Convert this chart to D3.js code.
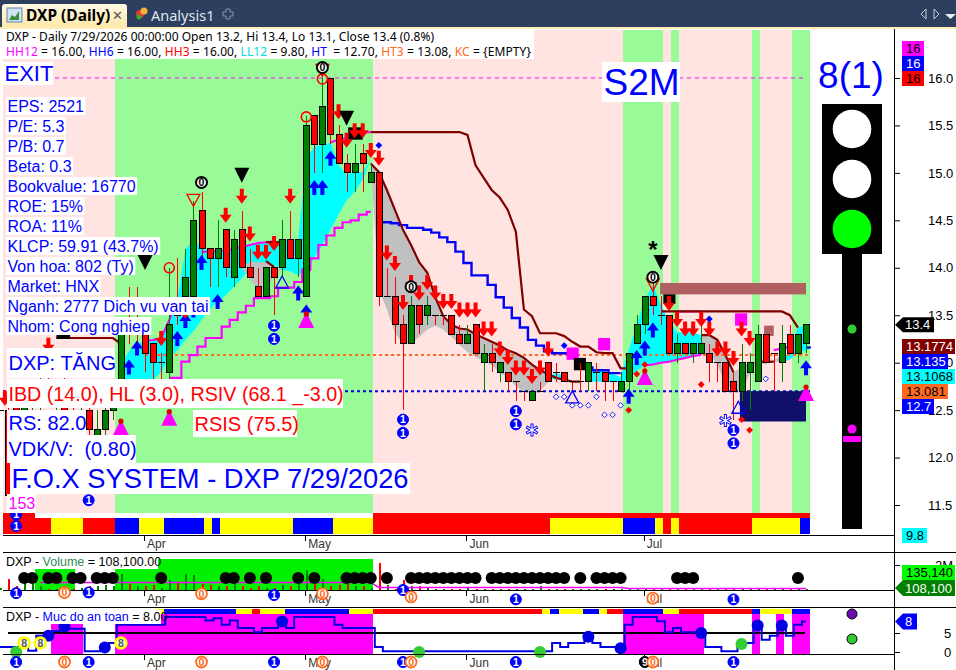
<!DOCTYPE html>
<html><head><meta charset="utf-8">
<script src="https://cdnjs.cloudflare.com/ajax/libs/d3/7.8.5/d3.min.js"></script>
<style>
html,body{margin:0;padding:0;background:#fff;overflow:hidden}
svg{display:block}
text{font-family:"Liberation Sans",Arial,sans-serif;white-space:pre}
</style></head><body><div id="c"></div>
<script>
// ---------- DATA ----------
const open_ = [12.5,12.5,12.6,12.5,12.6,12.7,12.8,12.6,12.7,12.5,12.4,12.5,12.2,12.3,12.5,12.7,13.4,13.3,13.3,13.2,13.0,12.9,13.6,13.7,13.7,14.6,14.2,14.1,14.4,13.9,14.4,14.0,13.8,13.7,14.0,14.0,14.3,14.1,13.7,15.6,15.3,16.0,15.4,15.1,15.0,15.2,14.9,15.0,13.7,13.7,13.4,13.2,13.6,13.5,13.5,13.5,13.5,13.3,13.2,13.4,13.0,13.1,12.9,12.9,12.8,12.7,12.6,12.7,13.0,12.9,12.9,12.8,12.8,12.8,12.9,12.9,12.8,12.7,12.8,13.2,13.4,13.7,13.5,13.5,13.1,13.2,13.1,13.1,13.1,13.0,13.0,12.8,12.7,12.9,12.8,13.3,13.1,13.0,13.3,13.1,13.2];
const high_ = [12.5,12.6,12.7,12.7,12.8,12.9,13.0,12.8,12.9,12.7,12.6,12.6,12.5,12.6,12.7,13.4,13.8,13.8,13.4,13.2,13.1,14.0,14.1,14.2,14.7,14.8,14.2,14.5,14.4,14.4,14.6,14.2,14.0,14.0,14.0,14.5,14.6,14.3,15.6,15.6,16.0,16.0,15.5,15.2,15.3,15.3,15.1,15.0,14.0,13.9,13.5,13.7,13.6,13.7,13.5,13.5,13.5,13.4,13.4,13.4,13.2,13.2,13.0,12.9,12.8,12.7,12.7,12.8,13.0,13.0,12.9,12.8,13.0,13.0,13.0,12.9,12.8,12.9,13.1,13.5,13.7,13.9,13.7,13.5,13.3,13.2,13.2,13.4,13.2,13.0,13.0,12.9,13.2,13.1,13.4,13.3,13.1,13.4,13.4,13.3,13.4];
const low_  = [12.4,11.6,12.4,12.4,12.4,12.5,12.6,12.4,12.5,12.3,12.3,12.2,12.2,12.2,12.4,12.6,13.2,13.2,12.9,12.8,12.7,12.8,13.4,13.6,13.6,14.1,13.8,13.8,13.9,13.8,14.0,13.9,13.7,13.7,13.5,13.9,14.1,13.9,13.7,15.0,15.0,15.3,15.1,14.8,14.8,14.8,14.9,13.6,13.7,13.2,12.5,13.2,13.3,13.4,13.4,13.4,13.3,13.2,13.2,13.1,12.7,12.9,12.8,12.7,12.6,12.6,12.6,12.7,12.8,12.8,12.8,12.7,12.7,12.7,12.7,12.6,12.6,12.7,12.7,13.2,13.3,13.5,13.4,13.1,13.0,13.1,13.0,13.1,12.8,12.8,12.7,12.4,12.6,12.5,12.8,13.0,12.7,12.8,13.1,13.0,13.1];
const close_= [12.5,11.6,12.5,12.6,12.7,12.8,12.6,12.7,12.5,12.4,12.5,12.3,12.3,12.5,12.6,13.3,13.3,13.3,13.1,13.0,13.0,13.4,13.5,13.9,14.5,14.2,14.1,14.2,14.0,14.3,14.0,13.9,13.7,14.0,13.9,14.3,14.1,14.3,15.5,15.3,15.7,15.4,15.1,15.0,15.1,15.1,15.0,13.7,13.7,13.4,13.2,13.6,13.4,13.6,13.5,13.5,13.3,13.2,13.3,13.1,13.1,13.0,13.0,12.8,12.8,12.7,12.7,12.7,12.8,12.9,12.8,12.8,12.8,13.0,12.9,12.8,12.8,12.8,13.1,13.4,13.7,13.6,13.5,13.1,13.2,13.1,13.2,13.2,13.0,13.0,12.7,12.7,13.0,13.0,13.3,13.0,13.1,13.2,13.1,13.3,13.4];
const volumeM = [.2,.9,.3,1.1,.9,.3,.1,.1,.3,.1,.2,.3,.3,.4,.3,1.3,.5,.3,.3,.4,.2,.8,.6,1.3,1.2,.5,.4,.3,.3,.5,.3,.2,.3,.2,.2,.4,.3,.5,1.6,.8,.9,.3,.4,.5,.3,.3,.2,2.2,.4,.1,.8,.3,.3,.2,.1,.1,.1,.1,.2,.1,.1,.1,.1,.1,.1,.1,.1,.3,.1,.1,.1,.1,.1,.1,.1,.1,.1,.1,.1,.1,.1,.2,.1,.1,.1,.1,.1,.1,.1,.1,.1,.2,.1,.1,.1,.1,.1,.1,.1,.1,.1];
const safety = [1.3,1.3,1.3,1.3,.3,4.3,4.3,5.5,7.2,6.1,6.1,.2,.2,1.2,2.4,7.2,7.2,7.2,7.2,7.2,7.2,9.2,9.2,9.2,9.2,9.2,8.3,8.9,7.2,8.3,6.3,6.3,5.2,6.3,6.3,8,6.3,9.2,9.2,9.2,9.2,9.2,7.2,6.3,6.3,6.3,6.3,1.3,.2,.2,.2,.2,.2,.2,.2,.2,.2,.2,.2,.2,.2,.2,.2,.2,.2,.2,.2,.2,.2,2.4,1.3,2.4,2.4,3.1,2.4,1.3,1.3,1.3,7.2,9.2,9.2,9.2,8.1,5.2,6.3,5.2,5.2,5.2,1.3,1.3,.2,.2,2.4,2.4,7.2,3.2,4.3,7.2,4.3,7.2,8];
const monthBars = [18,38,58,80];
const monthNames = ["Apr","May","Jun","Jul"];
const priceTicks = [16,15.5,15,14.5,14,13.5,13,12.5,12,11.5];
const zoneStarts = [-1,14,46,77,82,83,84,93,94,98];
const zoneKinds  = ["p","g","p","g","p","g","p","g","p","g"];
const stripeStarts = [-1,6,10,14,17,20,25,26,27,36,41,46,68,77,81,82,83,84,93,99];
const stripeKinds  = ["r","y","r","b","y","b","y","b","y","b","y","r","y","b","y","r","y","r","y","b"];
const stripe3Starts = [19,20,29,31,32,35,43,46,67,68,69,72,74,75,77,82,84,93,94,98];
const stripe3Kinds  = ["y","b","y","r","y","b","y","r","y","b","y","b","y","r","b","y","r","b","y","b"];
const safeRanges = [[6,10],[14,46],[77,87],[93,94],[96,97],[98,101]];
const cyanA = {s:15,t:[12.98,13.12,13.19,13.23,13.24,13.26,13.45,13.66,14.19,14.29,14.21,14.17,14.16,14.18,14.20,14.22,14.24,14.26,14.27,14.28,14.29,14.29,14.29,15.14,15.28,15.29,15.32,15.08,14.98,15.01,15.01,15.14],
 b:[12.84,12.82,12.82,12.82,12.82,12.90,13.05,13.13,13.24,13.33,13.45,13.56,13.64,13.71,13.80,13.89,14.0,14.06,14.06,14.03,13.98,13.96,13.92,13.98,14.11,14.24,14.40,14.56,14.71,14.80,14.93,15.14]};
const grayA = {s:30,t:[14.0,14.06,14.06,14.06,14.02,13.98],b:[14.0,13.87,13.77,13.75,13.92,13.98]};
const grayB = {s:46,t:[15.10,15.01,14.82,14.61,14.40,14.24,14.06,13.95,13.69,13.49,13.40,13.36,13.35,13.30,13.26,13.22,13.18,13.13,13.10,13.05,12.98,12.92,12.88,12.84],
 b:[15.10,13.77,13.56,13.31,13.20,13.20,13.27,13.35,13.39,13.35,13.27,13.19,13.11,13.06,13.02,12.97,12.90,12.84,12.75,12.70,12.67,12.70,12.79,12.84]};
const cyanB = {s:68,t:[12.84,12.9,12.85,12.8],b:[12.84,12.82,12.82,12.8]};
const cyanC = {s:73,t:[12.95,12.93,12.91,12.88,12.85,13.13,13.40,13.66,13.82,13.61,13.43,13.32,13.32,13.32,13.29],
 b:[12.8,12.8,12.8,12.8,12.8,12.82,12.92,12.97,12.98,13.0,13.01,13.03,13.05,13.07,13.08]};
const grayC = {s:87,t:[13.29,13.29,13.24,13.08,12.9,12.95,13.01,13.01,12.98,13.03,13.07],b:[13.08,13.1,12.98,12.77,12.7,12.7,12.88,13.01,13.01,13.01,13.01]};
const cyanD = {s:97,t:[13.07,13.1,13.37,13.4],b:[13.01,13.03,13.11,13.13]};
const lines = {
 magSlow:{s:21,v:[12.84,12.84,13.01,13.08,13.17,13.26,13.26,13.38,13.45,13.53,13.60,13.68,13.68,13.70,13.79,13.79,13.85,13.98,14.10,14.24,14.34,14.42,14.48,14.50,14.56,14.59]},
 magA:{s:18,v:[13.23,13.24,13.26,13.45,13.66]},
 magB:{s:25,v:[14.17,14.17,14.18,14.18,14.20,14.22,14.24,14.26,14.27,14.28]},
 magC:{s:41,v:[15.32,15.35,15.37,15.40,15.42,15.43]},
 magD:{s:80,v:[12.97,12.98,13.0,13.01,13.03,13.05,13.07,13.08]},
 magE:{s:84,v:[13.54,13.54,13.54,13.54]},
 magF:{s:96,v:[13.13,13.15,13.17]},
 blue:{s:47,v:[14.48,14.48,14.47,14.45,14.42,14.42,14.40,14.37,14.32,14.27,14.17,14.05,13.92,13.92,13.82,13.69,13.58,13.47,13.37,13.24,13.18,13.12,13.10,13.10,13.10,13.01,12.95,12.92,12.92,12.89,12.89]},
 blueEnd:{s:100,v:[13.16]},
 trail:{s:46,v:[15.43,15.43,15.43,15.43,15.43,15.43,15.43,15.43,15.43,15.43,15.43,15.43,15.40,15.08,14.95,14.82,14.74,14.61,14.38,13.56,13.49,13.31,13.31,13.31,13.28,13.22,13.17,13.17,13.11,13.10,13.10,12.94,12.94]},
 trailB:{s:82,v:[13.54,13.54,13.54,13.54,13.54,13.54,13.54,13.54,13.54,13.54,13.54,13.54,13.54,13.54,13.54,13.54,13.50,13.37]},
 trailC:{s:46,v:[15.10,15.01,14.82,14.61,14.40,14.24,14.06,13.95,13.69,13.49,13.40,13.36,13.35,13.30,13.26,13.22,13.18,13.13,13.10,13.05,12.98,12.92,12.88,12.84,12.82,12.80,12.80]},
 trailD:{s:87,v:[13.29,13.29,13.24,13.08,12.90]},
 trailE:{s:94,v:[13.01,13.01,13.01]},
 trailF:{s:7,v:[13.26,13.26,13.26,13.26,13.26,13.26,13.26,13.26,13.2]},
 trailG:{s:33,v:[14.27,14.27,14.27]},
 trailH:{s:33,v:[14.07,14.01]}
};
const refLevels = {exit:16, orange:13.081, blue:12.7};
const arrowsDown = [[42,15.65],[43,15.35],[44,15.45],[45,15.45],[46,15.24],[47,15.16],[28,14.56],[30,14.76],[31,14.36],[32,14.17],[33,14.17],[34,14.26],[36,14.76],[48,14.16],[49,14.05],[50,13.64],[51,13.85],[52,13.74],[53,13.85],[54,13.74],[55,13.65],[56,13.65],[57,13.56],[58,13.56],[59,13.56],[60,13.36],[61,13.36],[62,13.15],[63,13.06],[64,12.95],[65,12.95],[66,12.86],[67,12.95],[68,13.15],[83,13.63],[84,13.46],[85,13.36],[86,13.36],[87,13.46],[88,13.36],[89,13.15],[90,13.15],[91,13.05],[92,13.36],[93,13.26],[20,13.26],[6,13.19],[.6,12.63]];
const arrowsUp = [[25,14.05],[39,14.84],[40,14.84],[41,15.15],[16,12.95],[17,13.15],[22,13.25],[23,13.44],[24,13.55],[27,13.64],[37,13.73],[38,13.53],[78,12.64],[79,13.05],[80,13.15],[81,13.34],[100,12.94]];
const triBlackDown = [[30,14.98],[18,14.06],[43,15.58],[82,14.06]];
const triRedHollow = [[24,14.71],[40,16.08],[81,13.82]];
const ringsRed = [[21,14.0],[38,15.59],[40,15.99]];
const zerosBlack = [[25,14.90],[40,16.11],[51,13.80],[81,13.90]];
const onesBlue = [[34,13.39],[34,13.25],[50,12.40],[50,12.26],[64,12.49],[64,12.35],[91,12.29],[91,12.15],[11,11.55],[2,11.28],[2,11.40]];
const triMagenta = [[15,12.32],[21,12.42],[38,13.45],[80,12.85],[100,12.68]];
const dotsRed = [[23,13.50],[24,13.60],[78,12.5],[79,12.88],[80,12.98],[87,12.77],[92,12.4],[93,12.29]];
const hollowDots = [[69,12.64],[70,12.64],[71,12.55],[72,12.55],[73,12.55],[74,12.64],[75,12.45],[76,12.45],[77,12.55],[95,12.83]];
const triBlueHollow = [[35,13.85],[71,12.64],[91.6,12.53]];
const snow = [[66,12.29],[90,12.39]];
const dotsBlue = [[47,15.29],[70,13.18],[88,13.46]];
const asterisk = [[81,14.22]];
const boxes = [{a:70.3,b:71.8,p1:13.16,p2:13.03,c:"#ff00ff"},{a:74.2,b:75.7,p1:13.26,p2:13.13,c:"#ff00ff"},{a:71.2,b:72.7,p1:13.05,p2:12.92,c:"#000"},{a:91.2,b:92.7,p1:13.52,p2:13.39,c:"#ff00ff"},{a:94.8,b:96,p1:13.39,p2:13.28,c:"#b06060"},{a:81.9,b:100,p1:13.84,p2:13.72,c:"#b06060"},{a:91.8,b:100,p1:12.70,p2:12.38,c:"#10106a"},{a:82.3,b:83.8,p1:13.72,p2:13.62,c:"#000"},{a:43.2,b:45,p1:15.48,p2:15.35,c:"#000"},{a:7,b:8.7,p1:13.39,p2:13.25,c:"#000"}];
const volDots = [3,4,6,7,9,10,12,13,14,20,28,29,31,33,37,39,43,44,45,46,48,51,52,53,54,55,56,57,58,59,61,62,63,64,65,66,67,68,69,70,72,74,75,76,77,84,85,86,99];
const volOnes = [[2,-.25],[11,-.2],[34,-.4],[50,0],[64,-.75],[91,-.75]];
const volZeros = [[8,-.2],[25,-.3],[40,-.3],[51,-.55],[81,-.65]];
const safeBlue = [[6,4.3],[8,6.7],[13,1.2],[35,8],[73,4],[77,1],[87,5],[94,7],[97,7]];
const safeGreen = [[2,0],[52,0],[67,0],[92,2.1]];
const safeYellow = [[3,2.4],[5,2.4],[15,2.4]];
const lowOnes=[2,11,34,50,64,91], lowZeros=[8,25,40,51,81], lowNine=[80];
const infoRows = ["EPS: 2521","P/E: 5.3","P/B: 0.7","Beta: 0.3","Bookvalue: 16770","ROE: 15%","ROA: 11%","KLCP: 59.91 (43.7%)","Von hoa: 802 (Ty)","Market: HNX","Nganh: 2777 Dich vu van tai","Nhom: Cong nghiep"];
const tags = [["16","#ff00ff","#000",902,924,41,56],["16","#0000ff","#fff",902,924,56,71],["16","#ff0000","#000",902,924,71,86],["13.1774","#800000","#fff",902,955,339,354],["13.135","#0000ff","#fff",902,948,354,369],["13.1068","#00ffff","#000",902,955,369,384],["13.081","#ff6a20","#000",902,948,384,399],["12.7","#0000ff","#fff",902,934,399,414],["9.8","#00ffff","#000",902,927,528,543],["135,140","#00ff00","#000",902,955,565,580]];
const safeTicks=[0,5];

// ---------- SCALES ----------
const W=956,H=670;
const x=d3.scaleLinear().domain([0,100]).range([0,806]);
const y=d3.scaleLinear().domain([11.5,16]).range([505,78]);
const yVol=d3.scaleLinear().domain([0,2]).range([590,565]);
const ySafe=d3.scaleLinear().domain([0,5]).range([652,633]);
const svg=d3.select("#c").append("svg").attr("width",W).attr("height",H);
const colors={r:"#ff0000",y:"#ffff00",b:"#0000ff",p:"#ffe4e1",g:"#98fb98"};
const EDGE=.3;
function edgeX(i){return Math.min(810,Math.max(3,Math.round(x(i+EDGE))));}
function runs(g,starts,kinds,y0,h){
  g.selectAll(null).data(starts).join("rect")
   .attr("x",d=>edgeX(d))
   .attr("width",(d,i)=>edgeX(i+1<starts.length?starts[i+1]:100.3)-edgeX(d))
   .attr("y",y0).attr("height",h).attr("fill",(d,i)=>colors[kinds[i]]);
}
const chrome=svg.append("g");
chrome.append("rect").attr("width",W).attr("height",27).attr("fill","#2d3e5f");
chrome.append("rect").attr("y",27).attr("width",W).attr("height",2).attr("fill","#fdeeb8");
const defs=svg.append("defs");
const gr=defs.append("linearGradient").attr("id","tab").attr("x1",0).attr("x2",0).attr("y1",0).attr("y2",1);
gr.append("stop").attr("offset",0).attr("stop-color","#fff9e6");gr.append("stop").attr("offset",1).attr("stop-color","#fde9a8");
chrome.append("path").attr("d","M2 27V7q0-3 3-3H124q3 0 3 3V27Z").attr("fill","url(#tab)");
chrome.append("rect").attr("x",7).attr("y",8).attr("width",15).attr("height",14).attr("fill","#cfe3f5").attr("stroke","#5b86b5");
chrome.append("path").attr("d","M9 20l3-5 3 2 4-6v9Z").attr("fill","#3b8f3b");
chrome.append("text").attr("x",26).attr("y",21).attr("font-size",15.5).attr("font-weight","bold").attr("fill","#000").style("font-family","'Noto Sans'").text("DXP (Daily)");
chrome.append("text").attr("x",112).attr("y",20).attr("font-size",13).attr("fill","#555").text("✕");
chrome.append("circle").attr("cx",140).attr("cy",14).attr("r",4).attr("fill","#e33");
chrome.append("circle").attr("cx",144).attr("cy",11).attr("r",3.5).attr("fill","#f2b33d");
chrome.append("circle").attr("cx",139).attr("cy",17).attr("r",2.5).attr("fill","#3aa83a");
chrome.append("text").attr("x",151).attr("y",21).attr("font-size",14.5).attr("fill","#dfe6ee").style("font-family","'Noto Sans'").text("Analysis1");
chrome.append("path").attr("d","M226 9h4v3h3v4h-3v3h-4v-3h-3v-4h3Z").attr("fill","none").attr("stroke","#8a96a8");
chrome.append("path").attr("d","M926 9l-5 5 5 5ZM934 9l5 5-5 5Z").attr("fill","none").attr("stroke","#c4ccd8");
chrome.append("path").attr("d","M945 14h11l-5.5 5Z").attr("fill","#e8edf3");

const bg=svg.append("g");
runs(bg,zoneStarts,zoneKinds,30,504);
bg.append("rect").attr("x",3).attr("y",513).attr("width",32).attr("height",5).attr("fill","#f00");
bg.append("rect").attr("x",35).attr("y",513).attr("width",338).attr("height",5).attr("fill","#fff");
bg.append("rect").attr("x",373).attr("y",513).attr("width",437).attr("height",5).attr("fill","#f00");
runs(svg.append("g"),stripeStarts,stripeKinds,518,16);

const main=svg.append("g");
function cloud(c,col){
 const a=d3.area().x((d,i)=>x(c.s+i)).y0((d,i)=>y(c.b[i])).y1(d=>y(d));
 main.append("path").attr("d",a(c.t)).attr("fill",col);
}
cloud(cyanA,"#00ffff");cloud(grayA,"#c0c0c0");cloud(grayB,"#c0c0c0");cloud(cyanB,"#00ffff");cloud(cyanC,"#00ffff");cloud(grayC,"#c0c0c0");cloud(cyanD,"#00ffff");
main.append("line").attr("x1",55).attr("x2",805).attr("y1",y(refLevels.exit)).attr("y2",y(refLevels.exit)).attr("stroke","#ff00ff").attr("stroke-width",1).attr("stroke-dasharray","4 4");
main.append("line").attr("x1",x(18)).attr("x2",810).attr("y1",y(refLevels.orange)).attr("y2",y(refLevels.orange)).attr("stroke","#ff6a20").attr("stroke-width",2).attr("stroke-dasharray","3 3");
main.append("line").attr("x1",3).attr("x2",810).attr("y1",y(refLevels.blue)).attr("y2",y(refLevels.blue)).attr("stroke","#0000e0").attr("stroke-width",2).attr("stroke-dasharray","3 3");
function pl(l,col,w,curve){
 const v=l.v.length>1?l.v:[l.v[0],l.v[0]];
 const g=d3.line().x((d,i)=>x(l.s+i*(l.v.length>1?1:.6))).y(d=>y(d)).curve(curve||d3.curveLinear);
 main.append("path").attr("d",g(v)).attr("fill","none").attr("stroke",col).attr("stroke-width",w);
}
pl(lines.magSlow,"#ff00ff",2.2,d3.curveStep);
["magA","magB","magC","magD","magE","magF"].forEach(k=>pl(lines[k],"#ff00ff",2));
pl(lines.blue,"#0000ff",2.4,d3.curveStep);pl(lines.blueEnd,"#0000ff",2.4);
["trail","trailB","trailC","trailD","trailE","trailF","trailG","trailH"].forEach(k=>pl(lines[k],"#800000",2.2));
main.selectAll(null).data(boxes).join("rect").attr("x",d=>x(d.a)).attr("width",d=>x(d.b)-x(d.a)).attr("y",d=>y(d.p1)).attr("height",d=>y(d.p2)-y(d.p1)).attr("fill",d=>d.c);
const idx=d3.range(open_.length);
const cg=main.append("g").attr("shape-rendering","crispEdges");
const cx=i=>Math.round(x(i));
cg.selectAll(null).data(idx.filter(i=>i>0)).join("line").attr("x1",i=>cx(i)+.5).attr("x2",i=>cx(i)+.5).attr("y1",i=>y(high_[i])).attr("y2",i=>y(low_[i]))
  .attr("stroke",i=>close_[i]>open_[i]?"#008000":"#ff0000").attr("stroke-width",1);
cg.selectAll(null).data(idx.filter(i=>i>0&&close_[i]!==open_[i])).join("rect")
  .attr("x",i=>cx(i)-2.5).attr("width",6).attr("y",i=>y(Math.max(open_[i],close_[i]))).attr("height",i=>Math.abs(y(open_[i])-y(close_[i])))
  .attr("fill",i=>close_[i]>open_[i]?"#008000":"#ff0000").attr("stroke","#000").attr("stroke-width",1);
cg.selectAll(null).data(idx.filter(i=>close_[i]===open_[i])).join("line").attr("x1",i=>cx(i)-3).attr("x2",i=>cx(i)+4).attr("y1",i=>y(open_[i])).attr("y2",i=>y(open_[i])).attr("stroke","#000");

const px=d=>x(d[0]),py=d=>y(d[1]);
function arrow(data,col,dir){
 main.selectAll(null).data(data).join("path").attr("transform",d=>`translate(${px(d)},${py(d)}) scale(1,${dir})`).attr("d","M-2 -7H2V0H6L0 8L-6 0H-2Z").attr("fill",col);
}
arrow(arrowsDown,"#ff0000",1);
arrow(arrowsUp,"#0000ff",-1);
main.selectAll(null).data(triBlackDown).join("path").attr("transform",d=>`translate(${px(d)},${py(d)})`).attr("d","M-7.5 -7H7.5L0 8Z").attr("fill","#000");
main.selectAll(null).data(triRedHollow).join("path").attr("transform",d=>`translate(${px(d)},${py(d)})`).attr("d","M-6.5 -6H6.5L0 6Z").attr("fill","none").attr("stroke","#f00").attr("stroke-width",1.3);
main.selectAll(null).data(ringsRed).join("circle").attr("cx",px).attr("cy",py).attr("r",5).attr("fill","none").attr("stroke","#f00").attr("stroke-width",1.6);
function digit(g,data,fx,fy,fill,stroke,col,t,sw){
 const s=g.selectAll(null).data(data).join("g").attr("transform",d=>`translate(${fx(d)},${fy(d)})`);
 s.append("circle").attr("r",5.5).attr("fill",fill).attr("stroke",stroke).attr("stroke-width",sw||1);
 s.append("text").attr("text-anchor","middle").attr("y",3.8).attr("font-size",10.5).attr("font-weight","bold").attr("fill",col).text(t);
}
digit(main,zerosBlack,px,py,"#fff","#000","#000","0",2);
digit(main,onesBlue,px,py,"#0000ff","#0000ff","#fff","1");
const mt=main.selectAll(null).data(triMagenta).join("g").attr("transform",d=>`translate(${px(d)},${py(d)})`);
mt.append("path").attr("d","M-8 8H8L0 -8Z").attr("fill","#ff00ff");
mt.append("circle").attr("cy",-6).attr("r",2.6).attr("fill","#e00000");
const dm="M0 -3.4L3.4 0L0 3.4L-3.4 0Z";
main.selectAll(null).data(dotsRed).join("path").attr("transform",d=>`translate(${px(d)},${py(d)})`).attr("d",dm).attr("fill","#f00");
main.selectAll(null).data(dotsBlue).join("path").attr("transform",d=>`translate(${px(d)},${py(d)})`).attr("d",dm).attr("fill","#00f");
main.selectAll(null).data(hollowDots).join("path").attr("transform",d=>`translate(${px(d)},${py(d)})`).attr("d","M0 -2.8L2.8 0L0 2.8L-2.8 0Z").attr("fill","#fff").attr("stroke","#0000ff").attr("stroke-width",.9);
main.selectAll(null).data(triBlueHollow).join("path").attr("transform",d=>`translate(${px(d)},${py(d)})`).attr("d","M-6.5 6H6.5L0 -6Z").attr("fill","none").attr("stroke","#00f").attr("stroke-width",1.3);
const sn=main.selectAll(null).data(snow).join("g").attr("transform",d=>`translate(${px(d)},${py(d)})`);
sn.append("path").attr("d","M0 -6.5V6.5M-5.6 -3.2L5.6 3.2M-5.6 3.2L5.6 -3.2").attr("fill","none").attr("stroke","#0000ff").attr("stroke-width",3);
sn.append("path").attr("d","M0 -5.5V5.5M-4.8 -2.8L4.8 2.8M-4.8 2.8L4.8 -2.8").attr("fill","none").attr("stroke","#fff").attr("stroke-width",1.2);
main.selectAll(null).data(asterisk).join("text").attr("x",px).attr("y",d=>py(d)+11).attr("text-anchor","middle").attr("font-size",24).attr("font-weight","bold").attr("fill","#000").text("*");

const lab=svg.append("g");
function label(x0,y0,h,txt,col,size,minW){
 const g=lab.append("g");
 const r=g.append("rect").attr("x",x0).attr("y",y0).attr("height",h).attr("fill","#fff");
 const t=g.append("text").attr("x",x0+1.5).attr("y",y0+h/2).attr("dominant-baseline","central").attr("font-size",size).attr("fill",col).text(txt);
 r.attr("width",minW||t.node().getComputedTextLength()+3);
}
label(3,62,23,"EXIT","#0000ff",22,50);
infoRows.forEach((s,i)=>label(6,97+i*20,18,s,"#0000ff",16));
label(7,348,30,"DXP: TĂNG","#0000ff",20,108);
label(7,379,29,"IBD (14.0), HL (3.0), RSIV (68.1 _-3.0)","#ff0000",19.7,336);
label(193,410,27,"RSIS (75.5)","#ff0000",20,104);
label(7,410,26,"RS: 82.0","#0000ff",20,79);
label(7,435,28,"VDK/V:  (0.80)","#0000ff",20,129);
label(10,463,31,"F.O.X SYSTEM - DXP 7/29/2026","#0000ff",27.3,400);
label(7,494,19,"153","#ff00ff",16,29);
label(602,62,40,"S2M","#0000ff",37,78);
svg.append("text").attr("x",851).attr("y",75).attr("text-anchor","middle").attr("dominant-baseline","central").attr("font-size",37).attr("fill","#0000ff").text("8(1)");
const hd=svg.append("g");
hd.append("rect").attr("x",3).attr("y",30).attr("width",531).attr("height",29).attr("fill","#fff");
function rich(x0,y0,parts,size,g,ff){
 const t=(g||hd).append("text").attr("x",x0).attr("y",y0).attr("font-size",size).style("font-family",ff||"'Noto Sans'");
 parts.forEach(p=>t.append("tspan").attr("fill",p[1]).text(p[0]));
 return t;
}
rich(6,41,[["DXP - Daily 7/29/2026 00:00:00 Open 13.2, Hi 13.4, Lo 13.1, Close 13.4 (0.8%)","#000"]],12).attr("textLength",428);
rich(6,56,[["HH12","#ff00ff"],[" = 16.00, ","#000"],["HH6","#0000ff"],[" = 16.00, ","#000"],["HH3","#ff0000"],[" = 16.00, ","#000"],["LL12","#00e0e0"],[" = 9.80, ","#000"],["HT ","#0000ff"],[" = 12.70, ","#000"],["HT3","#ff6a20"],[" = 13.08, ","#000"],["KC","#ff6a20"],[" = {EMPTY}","#000"]],12).attr("textLength",525);

const tl=svg.append("g");
tl.append("rect").attr("x",822).attr("y",104).attr("width",60).attr("height",150).attr("fill","#000");
tl.append("rect").attr("x",842).attr("y",254).attr("width",20).attr("height",275).attr("fill","#000");
[[129,"#fff"],[179,"#fff"],[229,"#00ff00"]].forEach(d=>tl.append("circle").attr("cx",852).attr("cy",d[0]).attr("r",19.3).attr("fill",d[1]));
tl.append("circle").attr("cx",852).attr("cy",329).attr("r",4.5).attr("fill","#32cd32");
tl.append("circle").attr("cx",852).attr("cy",429).attr("r",4.5).attr("fill","#ff00ff");
tl.append("rect").attr("x",843).attr("y",436).attr("width",18).attr("height",6).attr("fill","#ff00ff");

const v=svg.append("g");
v.append("rect").attr("x",35).attr("width",40).attr("y",569).attr("height",21).attr("fill","#00f000");
v.append("rect").attr("x",edgeX(14)).attr("width",edgeX(46)-edgeX(14)).attr("y",559).attr("height",31).attr("fill","#00f000");
v.append("g").attr("shape-rendering","crispEdges").selectAll(null).data(idx).join("rect")
 .attr("x",i=>cx(i)).attr("width",2).attr("y",i=>yVol(volumeM[i])).attr("height",i=>590-yVol(volumeM[i]))
 .attr("fill",i=>close_[i]>=open_[i]?"#008000":"#ff0000");
v.append("path").attr("d",d3.line().x(i=>x(i)).y(i=>yVol(i<47?.6:i<78?.2:.12))(d3.range(5,101))).attr("fill","none").attr("stroke","#ff00ff").attr("stroke-width",1.5);
v.selectAll(null).data(volDots).join("circle").attr("cx",i=>x(i)).attr("cy",578).attr("r",6).attr("fill","#000");
v.append("rect").attr("x",5).attr("y",555).attr("width",153).attr("height",14).attr("fill","#fff");
rich(6,566,[["DXP - ","#000"],["Volume","#2e8b57"],[" = 108,100.00","#000"]],12.5,v,"'Liberation Sans'");

const s3=svg.append("g");
s3.selectAll(null).data(safeRanges).join("rect").attr("x",d=>edgeX(d[0])).attr("width",d=>edgeX(d[1])-edgeX(d[0])).attr("y",ySafe(10)).attr("height",654-ySafe(10)).attr("fill","#ff00ff");
runs(s3,stripe3Starts,stripe3Kinds,609,5);
s3.append("line").attr("x1",8).attr("x2",805).attr("y1",ySafe(5)).attr("y2",ySafe(5)).attr("stroke","#000").attr("stroke-width",2);
s3.append("path").attr("d",d3.line().x((d,i)=>x(i)).y(d=>ySafe(d)).curve(d3.curveStep)(safety)).attr("fill","none").attr("stroke","#0000e0").attr("stroke-width",2);
s3.selectAll(null).data(safeBlue).join("circle").attr("cx",d=>x(d[0])).attr("cy",d=>ySafe(d[1])).attr("r",6).attr("fill","#0000e0");
s3.selectAll(null).data(safeGreen).join("circle").attr("cx",d=>x(d[0])).attr("cy",d=>ySafe(d[1])).attr("r",6).attr("fill","#32cd32");
const yg=s3.selectAll(null).data(safeYellow).join("g").attr("transform",d=>`translate(${x(d[0])},${ySafe(d[1])})`);
yg.append("circle").attr("r",5.5).attr("fill","#fff").attr("stroke","#ffff00").attr("stroke-width",2.5);
yg.append("text").attr("text-anchor","middle").attr("y",3.8).attr("font-size",10.5).attr("font-weight","bold").attr("fill","#555").text("8");
s3.append("rect").attr("x",5).attr("y",610).attr("width",156).attr("height",14).attr("fill","#fff");
rich(6,621,[["DXP - ","#000"],["Muc do an toan","#0000ff"],[" = 8.00","#000"]],12.5,s3,"'Liberation Sans'");
s3.append("circle").attr("cx",852).attr("cy",614).attr("r",5).attr("fill","#6a0dad").attr("stroke","#000");
s3.append("circle").attr("cx",852).attr("cy",639).attr("r",5).attr("fill","#32cd32").attr("stroke","#000");

const f=svg.append("g").attr("shape-rendering","crispEdges");
[[535,894],[552,956],[590,894],[607,956],[654,894]].forEach(d=>f.append("line").attr("x1",3).attr("x2",d[1]).attr("y1",d[0]+.5).attr("y2",d[0]+.5).attr("stroke","#000"));
f.append("line").attr("x1",894.5).attr("x2",894.5).attr("y1",29).attr("y2",670).attr("stroke","#000");
[[535,543],[590,598],[654,662]].forEach(r=>{
 const g=svg.append("g");
 g.selectAll(null).data(monthBars).join("line").attr("x1",d=>Math.round(x(d))-.5).attr("x2",d=>Math.round(x(d))-.5).attr("y1",r[0]).attr("y2",r[0]+6).attr("stroke","#000");
 g.selectAll(null).data(monthBars).join("text").attr("x",d=>x(d)+2).attr("y",r[1]+5).attr("font-size",12).attr("fill","#333").text((d,i)=>monthNames[i]);
});
const ovl=svg.append("g");
digit(ovl,volOnes,d=>x(d[0]),d=>yVol(d[1]),"#0000ff","#0000ff","#fff","1");
digit(ovl,volZeros,d=>x(d[0]),d=>yVol(d[1]),"#fff","#ff6a20","#ff6a20","0",1.8);
digit(ovl,lowOnes,d=>x(d),()=>662,"#0000ff","#0000ff","#fff","1");
digit(ovl,lowNine,d=>x(d),()=>662,"#000","#000","#fff","9");
digit(ovl,lowZeros,d=>x(d),()=>662,"#fff","#ff6a20","#ff6a20","0",1.8);
function axisStyle(a){a.select(".domain").remove();a.selectAll("text").attr("font-size",13).attr("font-family","Liberation Sans").attr("fill","#000");a.selectAll("line").attr("stroke","#000");}
svg.append("g").attr("transform","translate(895,0)").call(d3.axisRight(y).tickValues(priceTicks).tickFormat(d3.format(".1f")).tickSize(5).tickPadding(28)).call(axisStyle);
svg.append("g").attr("transform","translate(895,0)").call(d3.axisRight(ySafe).tickValues(safeTicks).tickFormat(d3.format("d")).tickSize(5).tickPadding(44)).call(axisStyle);
svg.append("g").attr("transform","translate(895,0)").call(d3.axisRight(yVol).tickValues([2]).tickFormat(()=>"2M").tickSize(5).tickPadding(35)).call(axisStyle);
const tg=svg.append("g");
tg.selectAll(null).data(tags).join("rect").attr("x",d=>d[3]).attr("width",d=>d[4]-d[3]).attr("y",d=>d[5]).attr("height",d=>d[6]-d[5]).attr("fill",d=>d[1]);
tg.selectAll(null).data(tags).join("text").attr("x",d=>d[3]+4).attr("y",d=>(d[5]+d[6])/2).attr("dominant-baseline","central").attr("font-size",13).attr("fill",d=>d[2]).text(d=>d[0]);
function atag(x0,x1,yc,h,col,txt,tcol){
 tg.append("path").attr("d",`M${x0} ${yc}L${x0+8} ${yc-h/2}H${x1}V${yc+h/2}H${x0+8}Z`).attr("fill",col);
 tg.append("text").attr("x",x0+10).attr("y",yc).attr("dominant-baseline","central").attr("font-size",13).attr("fill",tcol).text(txt);
}
atag(895,934,y(13.4),15,"#000","13.4","#fff");
atag(895,955,588,16,"#008000","108,100","#fff");
atag(895,917,ySafe(8),16,"#0000ff","8","#fff");
</script></body></html>
